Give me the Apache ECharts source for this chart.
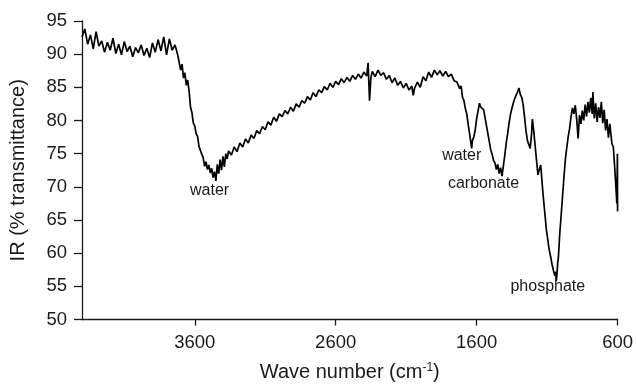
<!DOCTYPE html>
<html>
<head>
<meta charset="utf-8">
<script src="https://cdn.jsdelivr.net/npm/echarts@6/dist/echarts.min.js"></script>
<style>
  html, body { margin: 0; padding: 0; background: #fff; }
  #chart { width: 636px; height: 387px; }
</style>
</head>
<body>
<div id="chart"></div>
<script>
// IR spectrum: wave number (cm-1) and transmittance (%)
const waveNumbers = [
  4400, 4380, 4360, 4340, 4320, 4300, 4280, 4260, 4240, 4220, 4200, 4180, 4160, 4140, 4120, 4100,
  4080, 4060, 4040, 4020, 4000, 3980, 3960, 3940, 3920, 3900, 3880, 3860, 3840, 3820, 3800, 3780,
  3760, 3740, 3720, 3700, 3690, 3680, 3670, 3660, 3650, 3640, 3630, 3620, 3610, 3600, 3590, 3580,
  3570, 3560, 3550, 3540, 3530, 3520, 3510, 3500, 3490, 3480, 3470, 3460, 3450, 3440, 3430, 3420,
  3410, 3400, 3390, 3380, 3370, 3360, 3340, 3320, 3300, 3280, 3260, 3240, 3220, 3200, 3180, 3160,
  3140, 3120, 3100, 3080, 3060, 3040, 3020, 3000, 2980, 2960, 2940, 2920, 2900, 2880, 2860, 2840,
  2820, 2800, 2780, 2760, 2740, 2720, 2700, 2680, 2660, 2640, 2620, 2600, 2580, 2560, 2540, 2520,
  2500, 2480, 2460, 2440, 2420, 2400, 2380, 2370, 2360, 2350, 2340, 2320, 2300, 2280, 2260, 2240,
  2220, 2200, 2180, 2160, 2140, 2120, 2100, 2080, 2060, 2050, 2040, 2020, 2000, 1980, 1960, 1940,
  1920, 1900, 1880, 1860, 1840, 1820, 1800, 1780, 1760, 1740, 1720, 1710, 1700, 1690, 1680, 1670,
  1660, 1650, 1640, 1635, 1630, 1620, 1610, 1600, 1590, 1580, 1570, 1560, 1550, 1540, 1530, 1520,
  1510, 1500, 1490, 1480, 1470, 1460, 1450, 1440, 1430, 1420, 1410, 1400, 1390, 1380, 1370, 1360,
  1350, 1340, 1330, 1320, 1310, 1300, 1290, 1280, 1270, 1260, 1250, 1240, 1230, 1220, 1210, 1205,
  1195, 1185, 1175, 1165, 1155, 1145, 1135, 1125, 1115, 1105, 1095, 1085, 1075, 1065, 1055, 1045,
  1040, 1035, 1030, 1025, 1020, 1010, 1000, 990, 980, 970, 960, 950, 940, 930, 920, 910,
  900, 890, 880, 870, 860, 850, 840, 830, 820, 810, 800, 790, 780, 775, 765, 755,
  745, 735, 725, 715, 705, 695, 685, 675, 665, 655, 645, 640, 630, 620, 612, 605,
  601, 600
];
const transmittance = [
  92.6, 93.8, 91.5, 92.9, 90.8, 93.4, 91.2, 92.0, 90.3, 91.8, 90.6, 92.4, 90.1, 91.5, 89.9, 91.9,
  90.4, 91.2, 89.6, 91.0, 90.2, 91.4, 89.8, 90.9, 89.5, 91.7, 90.3, 92.2, 90.5, 92.6, 89.9, 92.3,
  90.6, 91.4, 89.8, 87.6, 88.5, 86.4, 87.2, 85.3, 86.1, 84.4, 82.0, 81.2, 79.6, 79.2, 78.0, 77.6,
  76.1, 75.8, 74.9, 74.4, 73.1, 73.8, 72.6, 73.3, 72.1, 72.8, 71.4, 72.3, 70.9, 73.4, 72.0, 74.1,
  72.5, 74.6, 73.0, 75.0, 74.2, 75.4, 74.8, 76.0, 75.3, 76.6, 76.0, 77.2, 76.6, 77.8, 77.3, 78.5,
  78.0, 79.1, 78.6, 79.8, 79.3, 80.5, 79.9, 81.0, 80.6, 81.5, 81.0, 82.0, 81.4, 82.5, 82.0, 83.0,
  82.6, 83.6, 83.1, 84.2, 83.6, 84.6, 84.2, 85.1, 84.6, 85.6, 85.0, 85.9, 85.4, 86.3, 85.7, 86.5,
  85.9, 86.8, 86.2, 87.0, 86.4, 87.3, 86.7, 88.7, 83.0, 86.5, 87.4, 86.6, 87.6, 86.8, 87.2, 86.2,
  86.8, 85.7, 86.4, 85.3, 85.9, 84.9, 85.6, 84.6, 85.2, 83.8, 84.9, 85.8, 85.0, 86.6, 86.0, 87.3,
  86.5, 87.6, 86.9, 87.5, 86.7, 87.4, 86.6, 87.0, 86.0, 85.8, 84.8, 85.2, 83.5, 83.0, 81.8, 81.0,
  79.4, 78.0, 76.5, 75.8, 77.0, 77.5, 78.6, 80.3, 81.4, 82.6, 82.0, 82.3, 81.6, 80.4, 79.2, 78.0,
  76.8, 75.6, 74.9, 74.0, 73.6, 72.6, 73.4, 72.0, 72.9, 71.6, 73.2, 74.8, 76.6, 78.0, 79.6, 80.9,
  81.8, 82.6, 83.3, 83.8, 84.3, 84.9, 83.9, 83.5, 82.4, 80.5, 78.5, 77.0, 76.4, 75.8, 78.0, 80.2,
  78.5, 76.2, 74.0, 71.8, 72.6, 73.3, 70.5, 68.0, 65.8, 63.5, 62.0, 60.5, 59.5, 58.3, 57.4, 56.6,
  57.2, 55.8, 56.8, 58.5, 59.3, 63.0, 65.8, 68.7, 71.6, 74.2, 76.0, 77.6, 78.8, 80.6, 81.9, 81.0,
  82.3, 80.2, 77.3, 80.8, 79.5, 81.5, 80.0, 82.4, 80.6, 82.8, 81.2, 83.4, 81.0, 84.3, 80.3, 82.6,
  79.8, 82.0, 80.4, 82.8, 79.6, 81.6, 78.5, 80.2, 77.4, 79.5, 79.8, 76.5, 76.0, 72.8, 70.0, 67.5,
  75.0, 66.3
];

// Band annotations (label text, wave number, transmittance of label centre)
const bandLabels = ['water', 'water', 'carbonate', 'phosphate'];
const bandWaveNumbers = [3495, 1706, 1551, 1095];
const bandTransmittance = [69.4, 74.7, 70.5, 54.9];

// Axis ticks
const xTicks = [600, 1600, 2600, 3600];
const yMin = 50, yMax = 95, yStep = 5;

const spectrum = waveNumbers.map((w, i) => [w, transmittance[i]]);
const annotations = bandLabels.map((t, i) => ({
  coord: [bandWaveNumbers[i], bandTransmittance[i]],
  value: t,
  label: { formatter: t }
}));

const FONT = 'Liberation Sans, Arial, Helvetica, sans-serif';
const INK = '#1a1a1a';

const chart = echarts.init(document.getElementById('chart'), null, { renderer: 'canvas' });
chart.setOption({
  animation: false,
  backgroundColor: '#fff',
  grid: { left: 82, right: 17, top: 21, bottom: 65, containLabel: false },
  xAxis: {
    type: 'value',
    min: 600,
    max: 4400,
    interval: 1000,
    inverse: true,
    name: '{a|Wave number (cm}{sup|-1}{a|)}',
    nameLocation: 'middle',
    nameGap: 42,
    nameTextStyle: {
      rich: {
        a: { fontFamily: FONT, fontSize: 20, color: INK },
        sup: { fontFamily: FONT, fontSize: 12, color: INK, verticalAlign: 'top', padding: [0, 0, 9, 0] }
      }
    },
    axisLine: { show: true, onZero: false, lineStyle: { color: INK, width: 1.3 } },
    axisTick: { show: true, inside: false, length: 6, customValues: xTicks, lineStyle: { color: INK, width: 1.3 } },
    axisLabel: {
      customValues: xTicks, margin: 14, fontFamily: FONT, fontSize: 18.5, color: INK,
      formatter: v => String(v)
    },
    splitLine: { show: false }
  },
  yAxis: {
    type: 'value',
    min: yMin,
    max: yMax,
    interval: yStep,
    name: 'IR (% transmittance)',
    nameLocation: 'middle',
    nameGap: 54,
    nameTextStyle: { fontFamily: FONT, fontSize: 20, color: INK },
    axisLine: { show: true, lineStyle: { color: INK, width: 1.3 } },
    axisTick: { show: true, inside: false, length: 8, lineStyle: { color: INK, width: 1.3 } },
    axisLabel: { margin: 15, fontFamily: FONT, fontSize: 18.5, color: INK },
    splitLine: { show: false }
  },
  series: [{
    type: 'line',
    data: spectrum,
    showSymbol: false,
    symbol: 'none',
    lineStyle: { color: '#000', width: 1.7 },
    markPoint: {
      symbol: 'circle',
      symbolSize: 0,
      itemStyle: { color: 'transparent' },
      label: {
        show: true,
        position: 'inside',
        fontFamily: FONT,
        fontSize: 16,
        color: INK
      },
      data: annotations
    }
  }]
});
</script>
</body>
</html>
